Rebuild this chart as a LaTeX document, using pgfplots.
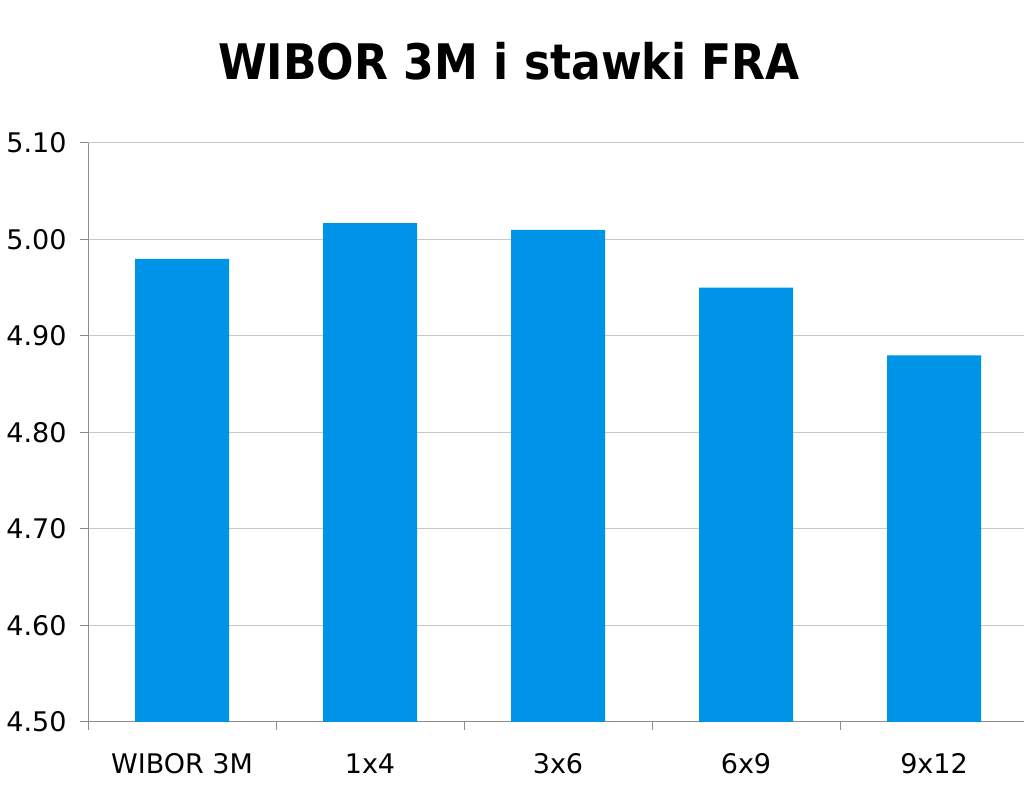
\documentclass[border=0pt]{standalone}
\usepackage{pgfplots}
\pgfplotsset{compat=1.18}
\usepackage{fontspec}
\setmainfont{DejaVu Sans Condensed}
\newfontfamily\ticksfont{DejaVu Sans}
\definecolor{barblue}{RGB}{0,148,232}
\definecolor{axgray}{RGB}{140,140,140}
\definecolor{gridgray}{RGB}{200,200,200}
\begin{document}
\begin{tikzpicture}
\useasboundingbox (0,0) rectangle (1024pt,791pt);
\clip (0,0) rectangle (1024pt,791pt);
\begin{axis}[
  at={(88pt,69pt)}, anchor=south west,
  scale only axis, width=940pt, height=579pt,
  xmin=-0.5, xmax=4.5, ymin=4.5, ymax=5.1,
  ytick={4.5,4.6,4.7,4.8,4.9,5.0,5.1},
  yticklabel style={/pgf/number format/fixed, /pgf/number format/fixed zerofill, /pgf/number format/precision=2, xshift=-10pt},
  /pgf/number format/assume math mode=true,
  ticklabel style={font=\ticksfont\fontsize{27}{32}\selectfont},
  xticklabel style={yshift=-20pt},
  ymajorgrids, grid style={draw=gridgray, line width=1pt},
  axis x line*=bottom, axis y line*=left,
  axis line style={draw=axgray, line width=1pt},
  tick align=outside, major tick length=8pt,
  tick style={draw=axgray, line width=1pt},
  xtick={0,1,2,3,4},
  xticklabels={WIBOR 3M, 1x4, 3x6, 6x9, 9x12},
  xtick style={draw=none},
  extra x ticks={-0.5,0.5,1.5,2.5,3.5,4.5},
  extra x tick labels={},
  extra x tick style={xtick style={draw=axgray, line width=1pt}},
  clip=true,
]
\addplot[ybar, bar width=94pt, fill=barblue, draw=none] coordinates {
  (0,4.98) (1,5.017) (2,5.01) (3,4.95) (4,4.88)
};
\end{axis}
\node[font=\fontsize{49}{58}\selectfont\bfseries] at (509pt,730pt) {WIBOR 3M i stawki FRA};
\end{tikzpicture}
\end{document}
